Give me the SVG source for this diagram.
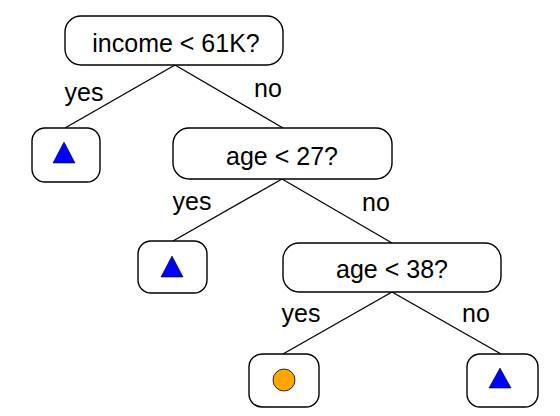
<svg xmlns="http://www.w3.org/2000/svg" width="560" height="416" viewBox="0 0 560 416">
<style>
.box{fill:#fff;stroke:#000;stroke-width:1.4}
.t{font-family:"Liberation Sans",Arial,sans-serif;font-size:25px;fill:#000;text-anchor:middle}
.e{stroke:#000;stroke-width:1.3;fill:none}
.tri{fill:#0000ff;stroke:#000;stroke-width:0.6}
.dot{fill:#ffa500;stroke:#000;stroke-width:0.8}
</style>
<rect width="560" height="416" fill="#fff"/>
<g id="connectors">
<line class="e" x1="175" y1="65" x2="65" y2="128"/>
<line class="e" x1="175" y1="65" x2="283" y2="128"/>
<line class="e" x1="282" y1="179" x2="173" y2="241"/>
<line class="e" x1="282" y1="179" x2="392" y2="243"/>
<line class="e" x1="392" y1="292" x2="283" y2="354"/>
<line class="e" x1="392" y1="292" x2="501" y2="354"/>
<text class="t" x="84" y="101">yes</text>
<text class="t" x="268" y="97">no</text>
<text class="t" x="192" y="210">yes</text>
<text class="t" x="376" y="211">no</text>
<text class="t" x="301" y="322">yes</text>
<text class="t" x="476" y="322">no</text>
</g>
<g id="root">
<rect class="box" x="65" y="16" width="218" height="49" rx="16"/>
<text class="t" x="176" y="52">income &lt; 61K?</text>
</g>
<g id="leaf1">
<rect class="box" x="32" y="128" width="68" height="54" rx="13"/>
<polygon class="tri" points="64,142 53,163 75,163"/>
</g>
<g id="age27">
<rect class="box" x="173" y="128" width="219" height="51" rx="16"/>
<text class="t" x="282" y="165">age &lt; 27?</text>
</g>
<g id="leaf2">
<rect class="box" x="138" y="241" width="69" height="52" rx="13"/>
<polygon class="tri" points="172,256 161,277 183,277"/>
</g>
<g id="age38">
<rect class="box" x="283" y="243" width="218" height="49" rx="16"/>
<text class="t" x="392" y="278">age &lt; 38?</text>
</g>
<g id="leaf3">
<rect class="box" x="249" y="354" width="70" height="53" rx="13"/>
<circle class="dot" cx="284" cy="380" r="11"/>
</g>
<g id="leaf4">
<rect class="box" x="467" y="354" width="71" height="53" rx="13"/>
<polygon class="tri" points="500,368 489,388 511,388"/>
</g>
</svg>
